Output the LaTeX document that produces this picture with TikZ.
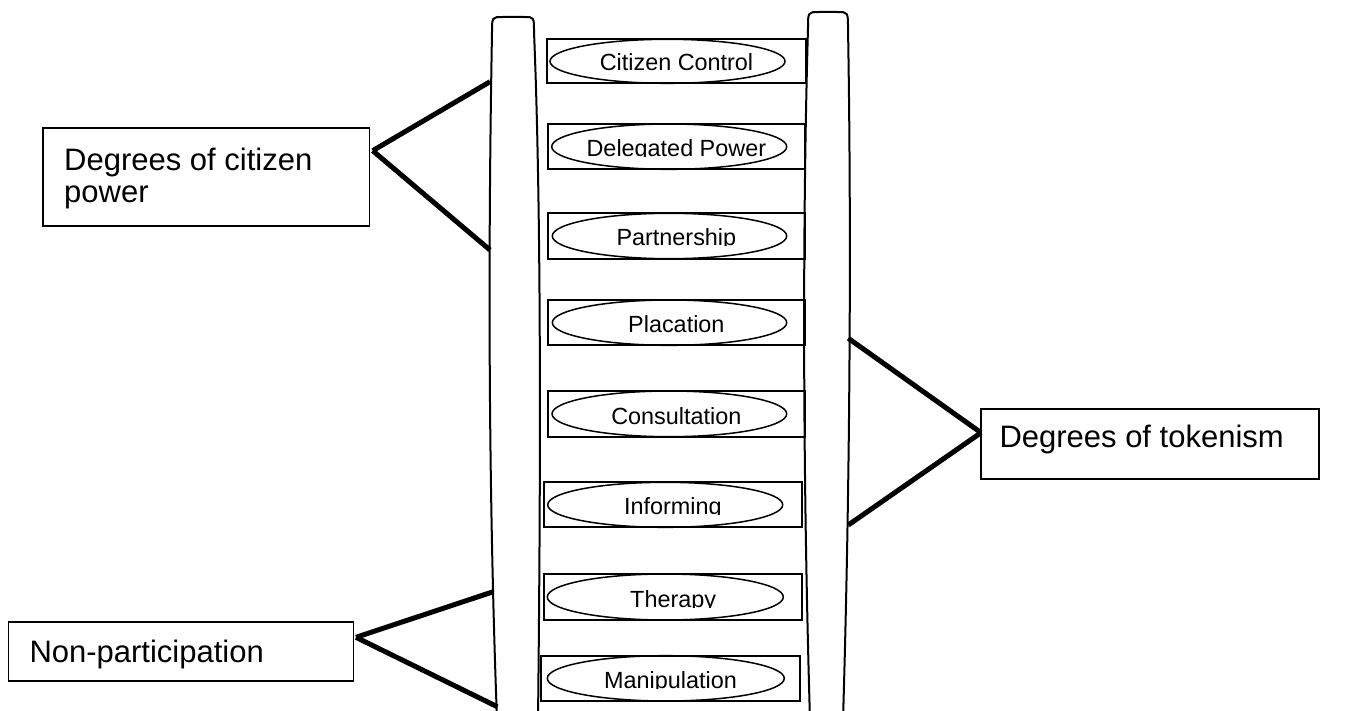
\documentclass[tikz,border=0pt]{standalone}
\usepackage{fontspec}
\setmainfont{Liberation Sans}
\usetikzlibrary{shapes.geometric}
\tikzset{
  rail/.style={line width=2pt},
  rungbox/.style={draw, line width=2.2pt, inner sep=0pt, outer sep=0pt},
  rungoval/.style={draw, ellipse, line width=1.5pt, inner sep=0pt, outer sep=0pt},
  rungtext/.style={font=\fontsize{23.4}{28}\selectfont, inner sep=0pt, anchor=base},
  labelbox/.style={draw, line width=1.6pt, inner sep=0pt, outer sep=0pt, anchor=north west},
  labeltext/.style={font=\fontsize{31}{32}\selectfont, inner sep=0pt, align=left},
  bracket/.style={line width=5pt},
}
% name, x1, x2, ytop, ybot, ellipse x1, ellipse x2, text
\newcommand\ladderrung[8]{%
  \node[rungbox, minimum width={#3-#2}, minimum height={#5-#4}] (#1box) at ({(#2+#3)/2},{(#4+#5)/2}) {};
  \node[rungoval, minimum width={#7-#6}, minimum height={#5-#4}] (#1oval) at ({(#6+#7)/2},{(#4+#5)/2}) {};
  \begin{scope}
    \clip (#2,#4) rectangle (#3,{#5-12.7});
    \node[rungtext] (#1text) at ({(#2+#3)/2},{#5-12.7}) {#8};
  \end{scope}
}
\begin{document}
\begin{tikzpicture}[x=1pt,y=-1pt]
\useasboundingbox (0,0) rectangle (1356,711);
\fill[white] (0,0) rectangle (1356,711);
\clip (0,0) rectangle (1356,711);

% ladder rails
\draw[rail] (497,720) .. controls (487,450) and (489,200) .. (492,32)
  .. controls (492,17) .. (503,17) -- (524,17) .. controls (534,17) .. (534,32)
  .. controls (541,200) and (541,450) .. (538,720);
\draw[rail] (810,720) .. controls (802,450) and (803,200) .. (808,28)
  .. controls (808,12) .. (819,12) -- (837,12) .. controls (848,12) .. (848,28)
  .. controls (851,200) and (851,450) .. (843,720);

% rungs
\ladderrung{cc}{547}{806}{39.3}{83.3}{550}{785}{Citizen Control}
\ladderrung{dp}{547.7}{805}{124}{169.3}{551.7}{786.7}{Delegated Power}
\ladderrung{pa}{547.7}{805}{213.3}{258.7}{552.3}{786.7}{Partnership}
\ladderrung{pl}{547.7}{805}{300}{345.3}{552.3}{786.7}{Placation}
\ladderrung{co}{547.7}{805}{391}{436.7}{552}{786.7}{Consultation}
\ladderrung{in}{544}{801.7}{482.3}{527.3}{547.7}{782.7}{Informing}
\ladderrung{th}{544}{802.3}{574}{620}{547.3}{783.3}{Therapy}
\ladderrung{ma}{541}{800}{655.7}{701}{547.3}{784.3}{Manipulation}

% label: degrees of citizen power
\node[labelbox, minimum width=326.6, minimum height=97.7] (citizen) at (42.7,128.3) {};
\node[labeltext, anchor=north west] (citizentext) at (64,147.5) {Degrees of citizen\\power};
\coordinate (citizenApex) at (372.7,150.7);
\coordinate (citizenTop) at (490,81.7);
\coordinate (citizenBot) at (490,250);
\draw[bracket] (citizenApex) -- (citizenTop);
\draw[bracket] (citizenApex) -- (citizenBot);

% label: degrees of tokenism
\node[labelbox, minimum width=338, minimum height=70] (token) at (981,409) {};
\node[labeltext, anchor=base west] (tokentext) at (999.3,447.7) {Degrees of tokenism};
\coordinate (tokenApex) at (981,432.7);
\coordinate (tokenTop) at (848.3,338.3);
\coordinate (tokenBot) at (848.3,525);
\draw[bracket] (tokenApex) -- (tokenTop);
\draw[bracket] (tokenApex) -- (tokenBot);

% label: non-participation
\node[labelbox, minimum width=345, minimum height=59] (nonpart) at (8.3,621.7) {};
\node[labeltext, anchor=base west] (nonparttext) at (29.3,662.7) {Non-participation};
\coordinate (nonpartApex) at (356,637.3);
\coordinate (nonpartTop) at (493.3,591.7);
\coordinate (nonpartBot) at (497.3,706.7);
\draw[bracket] (nonpartApex) -- (nonpartTop);
\draw[bracket] (nonpartApex) -- (nonpartBot);
\end{tikzpicture}
\end{document}
